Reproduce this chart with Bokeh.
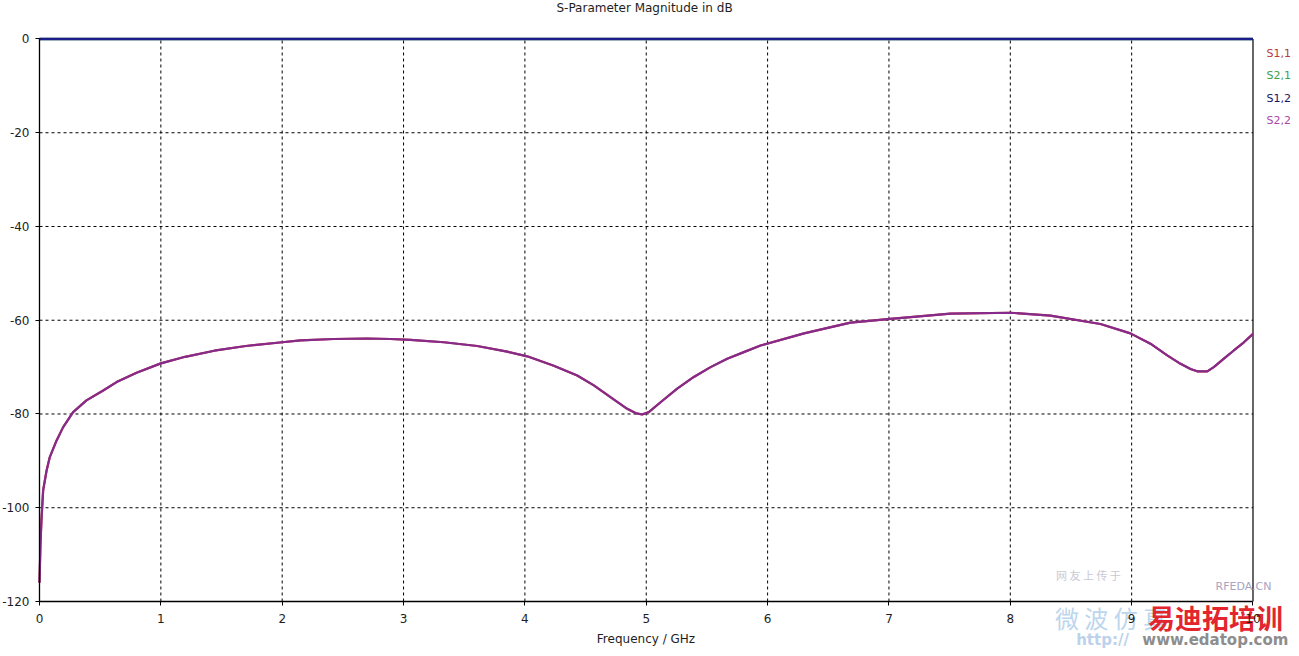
from bokeh.plotting import figure
from bokeh.models import Range1d, FixedTicker
from bokeh.core.properties import value
from bokeh.embed import file_html
from bokeh.resources import INLINE

# ---- data ----
freq_ghz = [0.0, 0.008, 0.016, 0.03, 0.058, 0.085, 0.14, 0.195, 0.277, 0.387, 0.525, 0.635, 0.8,
            1.0, 1.2, 1.44, 1.7, 2.0, 2.151, 2.425, 2.7, 2.892, 3.057, 3.332, 3.607, 3.854, 4.019,
            4.238, 4.431, 4.568, 4.705, 4.843, 4.911, 4.966, 5.021, 5.118, 5.255, 5.392, 5.53,
            5.667, 5.804, 5.942, 6.3, 6.683, 7.013, 7.507, 8.002, 8.331, 8.743, 8.99, 9.155,
            9.293, 9.403, 9.485, 9.54, 9.623, 9.677, 9.76, 9.842, 9.925, 10.0]
s11_db = [-116, -107.7, -102.7, -96.3, -92.1, -89.2, -85.7, -82.8, -79.6, -77.1, -75.0, -73.2, -71.2,
          -69.2, -67.8, -66.5, -65.5, -64.7, -64.3, -64.0, -63.9, -64.0, -64.2, -64.7, -65.5, -66.7, -67.7,
          -69.7, -71.8, -73.9, -76.4, -78.9, -79.8, -80.1, -79.6, -77.5, -74.6, -72.1, -70.0,
          -68.2, -66.8, -65.4, -62.8, -60.5, -59.7, -58.6, -58.4, -59.0, -60.8, -62.8, -65.0,
          -67.5, -69.3, -70.4, -70.9, -70.9, -70.0, -68.2, -66.45, -64.7, -62.9]
s22_db = list(s11_db)          # S2,2 coincides with S1,1
flat_freq = [0.0, 10.0]
s21_db = [0.0, 0.0]
s12_db = [0.0, 0.0]

series_names = ["S1,1", "S2,1", "S1,2", "S2,2"]
legend_colors = ["#b83a3a", "#3f9f4a", "#141466", "#a848a8"]

x_ticks = [0, 1, 2, 3, 4, 5, 6, 7, 8, 9, 10]
y_ticks = [0, -20, -40, -60, -80, -100, -120]
x_tick_labels = ["0", "1", "2", "3", "4", "5", "6", "7", "8", "9", "10"]
y_tick_labels = ["0", "-20", "-40", "-60", "-80", "-100", "-120"]

FONT = "DejaVu Sans"
TXT = "#1e1e1e"

x_lo, x_hi = x_ticks[0], x_ticks[-1]
y_lo, y_hi = y_ticks[-1], y_ticks[0]

# frame fills the whole canvas; axes sit at fixed locations inside it
p = figure(width=1291, height=648, output_backend="svg", toolbar_location=None,
           x_range=Range1d(-0.3214, 10.3173), y_range=Range1d(-130.03, 8.213),
           min_border=0, min_border_left=0, min_border_right=0,
           min_border_top=0, min_border_bottom=0)
p.outline_line_color = None
p.background_fill_color = "white"
p.border_fill_color = "white"
p.xgrid.visible = False
p.ygrid.visible = False

for ax in (p.xaxis[0], p.yaxis[0]):
    ax.axis_line_color = "black"
    ax.axis_line_width = 1.3
    ax.major_tick_line_color = "black"
    ax.major_tick_out = 4
    ax.major_tick_in = 0
    ax.minor_tick_out = 0
    ax.minor_tick_in = 0
    ax.major_label_text_font = FONT
    ax.major_label_text_font_size = "12px"
    ax.major_label_text_color = TXT
    ax.axis_label_text_font = FONT
    ax.axis_label_text_font_size = "12px"
    ax.axis_label_text_font_style = "normal"
    ax.axis_label_text_color = TXT

p.xaxis.ticker = FixedTicker(ticks=x_ticks)
p.yaxis.ticker = FixedTicker(ticks=y_ticks)
p.xaxis.major_label_overrides = dict(zip(x_ticks, x_tick_labels))
p.yaxis.major_label_overrides = dict(zip(y_ticks, y_tick_labels))
p.xaxis.fixed_location = y_lo
p.yaxis.fixed_location = x_lo
p.xaxis.bounds = (x_lo, x_hi)
p.yaxis.bounds = (y_lo, y_hi)
p.xaxis.major_label_standoff = 9
p.yaxis.major_label_standoff = 6
p.xaxis.axis_label = "Frequency / GHz"
p.xaxis.axis_label_standoff = 5

# dashed grid inside the plot box
gx = x_ticks[1:-1]
gy = y_ticks[1:-1]
p.segment(x0=gx, y0=[y_lo] * len(gx), x1=gx, y1=[y_hi] * len(gx),
          line_color="black", line_dash="3 3", line_width=1)
p.segment(x0=[x_lo] * len(gy), y0=gy, x1=[x_hi] * len(gy), y1=gy,
          line_color="black", line_dash="3 3", line_width=1)
# plot box right / top edge
p.segment(x0=[x_hi, x_lo], y0=[y_lo, y_hi], x1=[x_hi, x_hi], y1=[y_hi, y_hi],
          line_color="black", line_width=1.2)

# curves
p.line(freq_ghz, s11_db, line_color="#c03a3a", line_width=2.2)
p.line(freq_ghz, s22_db, line_color="#862a8c", line_width=2.2)
p.line(flat_freq, s21_db, line_color="#2f8f3a", line_width=2.6)
p.line(flat_freq, s12_db, line_color="#1c1c8a", line_width=2.6)

# title
p.text(x=[4.986], y=[6.7], text=["S-Parameter Magnitude in dB"], text_color=TXT,
       text_font=value(FONT), text_font_size="12px", text_align="center", text_baseline="middle")

# legend (text only, in series colours)
legend_y = [-3.1, -7.8, -12.7, -17.4]
p.text(x=[10.111] * 4, y=legend_y, text=series_names, text_color=legend_colors,
       text_font=value(FONT), text_font_size="11px", text_align="left", text_baseline="middle")

# watermark
p.text(x=[8.644], y=[-114.45], text=["网 友 上 传 于"], text_color="#c9c9d4",
       text_font=value("Noto Sans CJK SC"), text_font_size="11px",
       text_align="center", text_baseline="middle")
p.text(x=[8.83], y=[-123.4], text=["微 波 仿 真"], text_color="#bcd6ee",
       text_font=value("Noto Sans CJK SC"), text_font_size="24px",
       text_align="center", text_baseline="middle")
p.text(x=[9.922], y=[-116.8], text=["RFEDA.CN"], text_color="#a9a3c2",
       text_font=value(FONT), text_font_size="11px", text_align="center", text_baseline="middle")
p.text(x=[9.69], y=[-123.4], text=["易迪拓培训"], text_color="#e3262e",
       text_font=value("Noto Sans CJK SC"), text_font_size="27px", text_font_style="bold",
       text_align="center", text_baseline="middle")
p.text(x=[8.76], y=[-128.3], text=["http://"], text_color="#bcd2ea",
       text_font=value(FONT), text_font_size="15px", text_font_style="bold",
       text_align="center", text_baseline="middle")
p.text(x=[9.69], y=[-128.3], text=["www.edatop.com"], text_color="#8d8d8d",
       text_font=value(FONT), text_font_size="15px", text_font_style="bold",
       text_align="center", text_baseline="middle")

open("out.html", "w").write(file_html(p, INLINE))
